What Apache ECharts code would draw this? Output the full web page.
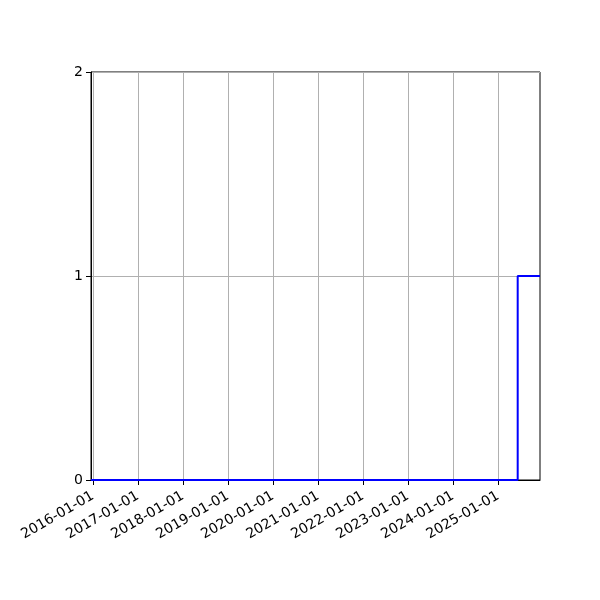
<!DOCTYPE html>
<html>
<head>
<meta charset="utf-8">
<script src="https://cdn.jsdelivr.net/npm/echarts@6/dist/echarts.min.js"></script>
<style>
  html, body { margin: 0; padding: 0; background: #fff; }
  #chart { width: 600px; height: 600px; }
</style>
</head>
<body>
<div id="chart"></div>
<script>
// step series: date, value
var stepDates = ['2015-12-17', '2025-06-09', '2025-12-07']
var stepValues = [0, 1, 1]
var xMin = '2015-12-17'
var xMax = '2025-12-07'
var yearTicks = ['2016-01-01', '2017-01-01', '2018-01-01', '2019-01-01', '2020-01-01',
  '2021-01-01', '2022-01-01', '2023-01-01', '2024-01-01', '2025-01-01']
var yTicks = [0, 1, 2]

function ts (s) {
  return new Date(s + 'T00:00:00Z').getTime()
}
function pad (n) {
  return n < 10 ? '0' + n : '' + n
}

var myChart = echarts.init(document.getElementById('chart'))

// 日期轴用数值轴 + 自定义刻度（年初）
var option = {
  animation: false,
  grid: {
    left: 91,
    right: 60,
    top: 72,
    bottom: 120,
    show: true,
    borderColor: '#000',
    borderWidth: 1,
    backgroundColor: 'transparent'
  },
  xAxis: {
    type: 'value',
    min: ts(xMin),
    max: ts(xMax),
    axisLine: { show: true, onZero: false, lineStyle: { color: '#000', width: 1 } },
    axisTick: {
      show: true,
      length: 5,
      lineStyle: { color: '#000', width: 1 },
      customValues: yearTicks.map(ts)
    },
    axisLabel: {
      customValues: yearTicks.map(ts),
      rotate: 30,
      color: '#000',
      fontSize: 14,
      fontFamily: 'DejaVu Sans',
      margin: 15,
      formatter: function (v) {
        var d = new Date(v)
        return d.getUTCFullYear() + '-' + pad(d.getUTCMonth() + 1) + '-' + pad(d.getUTCDate())
      }
    },
    splitLine: { show: true, lineStyle: { color: '#b0b0b0', width: 1 } }
  },
  yAxis: {
    type: 'value',
    min: 0,
    max: 2,
    interval: 1,
    axisLine: { show: true, lineStyle: { color: '#000', width: 1 } },
    axisTick: { show: true, length: 5, lineStyle: { color: '#000', width: 1 } },
    axisLabel: {
      color: '#000',
      fontSize: 14,
      fontFamily: 'DejaVu Sans',
      margin: 8,
      formatter: function (v) { return yTicks.indexOf(v) >= 0 ? String(v) : '' }
    },
    splitLine: { show: true, lineStyle: { color: '#b0b0b0', width: 1 } }
  },
  series: [
    {
      type: 'line',
      step: 'end',
      symbol: 'none',
      clip: false,
      lineStyle: { color: '#0000ff', width: 2 },
      data: stepDates.map(function (d, i) { return [ts(d), stepValues[i]] })
    }
  ]
}

myChart.setOption(option)
</script>
</body>
</html>
